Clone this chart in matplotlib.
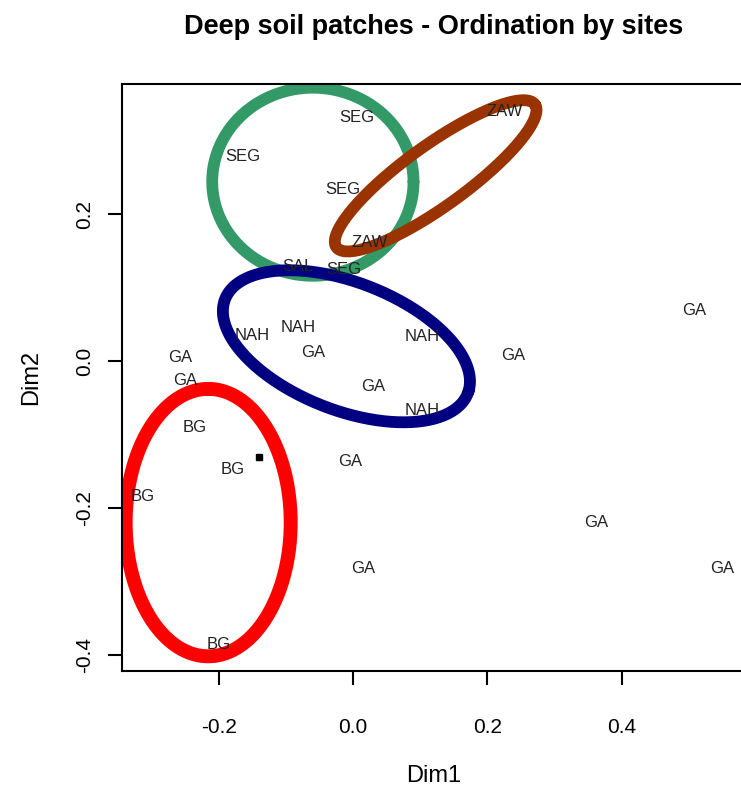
import numpy as np
import matplotlib.pyplot as plt

plt.rcParams['font.family'] = ['Liberation Sans', 'DejaVu Sans']
plt.rcParams['axes.unicode_minus'] = False

# site scores on the first two ordination axes
site_names = ['SEG', 'SEG', 'SEG', 'SAL', 'SEG', 'ZAW', 'ZAW',
              'NAH', 'NAH', 'NAH', 'NAH',
              'GA', 'GA', 'GA', 'GA', 'GA', 'GA', 'GA', 'GA', 'GA', 'GA',
              'BG', 'BG', 'BG', 'BG']
dim1 = [0.006, -0.165, -0.015, -0.082, -0.014, 0.226, 0.025,
        -0.151, -0.082, 0.103, 0.103,
        -0.258, -0.251, -0.060, 0.030, 0.238, 0.509, -0.005, 0.362, 0.015, 0.550,
        -0.236, -0.180, -0.313, -0.201]
dim2 = [0.331, 0.278, 0.233, 0.128, 0.125, 0.339, 0.161,
        0.035, 0.046, 0.033, -0.067,
        0.005, -0.027, 0.011, -0.035, 0.008, 0.069, -0.137, -0.220, -0.283, -0.282,
        -0.091, -0.148, -0.185, -0.386]

# single extra point (filled square)
extra_x = [-0.140]
extra_y = [-0.131]

# group ellipses: centre, semi axes, rotation (degrees)
ell_groups = ['SEG', 'ZAW', 'NAH', 'BG']
ell_cx = [-0.060, 0.123, -0.010, -0.216]
ell_cy = [0.244, 0.252, 0.020, -0.220]
ell_a = [0.150, 0.177, 0.192, 0.182]
ell_b = [0.128, 0.043, 0.088, 0.123]
ell_angle = [0, 33, -18.6, 90]

colours = {'SEG': '#339966', 'ZAW': '#993300', 'NAH': '#000080', 'BG': '#ff0000'}
widths = {'SEG': 8.5, 'ZAW': 8.5, 'NAH': 8.5, 'BG': 10}

fig = plt.figure(figsize=(7.41, 7.90), dpi=100)
ax = fig.add_axes([122.3/741, 1 - 671/790, (745 - 122.3)/741, (671 - 84)/790])

for name, x, y in zip(site_names, dim1, dim2):
    ax.text(x, y, name, ha='center', va='center', fontsize=12, color='#222222')

ax.plot(extra_x, extra_y, 's', color='black', markersize=5)

t = np.linspace(0, 2*np.pi, 300)
for g, cx, cy, a, b, ang in zip(ell_groups, ell_cx, ell_cy, ell_a, ell_b, ell_angle):
    th = np.radians(ang)
    ex = cx + a*np.cos(t)*np.cos(th) - b*np.sin(t)*np.sin(th)
    ey = cy + a*np.cos(t)*np.sin(th) + b*np.sin(t)*np.cos(th)
    ax.plot(ex, ey, color=colours[g], lw=widths[g], solid_capstyle='round')

ax.set_xlim(-0.344, 0.584)
ax.set_ylim(-0.422, 0.377)

ax.set_xticks([-0.2, 0.0, 0.2, 0.4])
ax.set_xticklabels(['-0.2', '0.0', '0.2', '0.4'])
ax.set_yticks([-0.4, -0.2, 0.0, 0.2])
ax.set_yticklabels(['-0.4', '-0.2', '0.0', '0.2'], rotation=90, va='center')

for s in ax.spines.values():
    s.set_linewidth(1.5)
ax.spines['right'].set_visible(False)
ax.tick_params(axis='both', length=10, width=1.5, labelsize=15)
ax.tick_params(axis='x', pad=24)
ax.tick_params(axis='y', pad=10)

ax.set_xlabel('Dim1', fontsize=17, labelpad=20)
ax.set_ylabel('Dim2', fontsize=17, labelpad=24)
ax.set_title('Deep soil patches - Ordination by sites', fontsize=19.5,
             fontweight='bold', pad=36)

fig.savefig('out.png', dpi=100)
